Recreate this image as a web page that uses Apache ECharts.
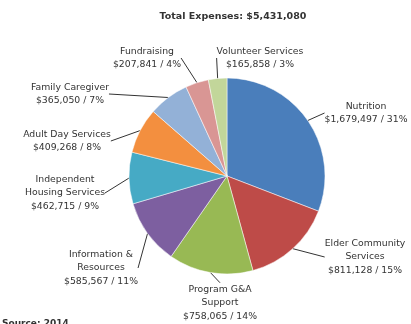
<!DOCTYPE html>
<html><head><meta charset="utf-8">
<script src="https://cdn.jsdelivr.net/npm/echarts@6/dist/echarts.min.js"></script>
<style>html,body{margin:0;padding:0;background:#fff}#c{width:411px;height:324px}</style>
</head><body><div id="c"></div>
<script>
const categories = ["Nutrition","Elder Community\nServices","Program G&A\nSupport","Information &\nResources","Independent\nHousing Services","Adult Day Services","Family Caregiver","Fundraising","Volunteer Services"];
const values = [1679497, 811128, 758065, 585567, 462715, 409268, 365050, 207841, 165858];
const percents = ["31%","15%","14%","11%","9%","8%","7%","4%","3%"];
const colors = ["#4A7EBB","#BE4B48","#98B954","#7D5FA0","#46AAC5","#F38F3F","#93B1D7","#D99694","#C2D69A"];
const labelPos = [[366,113],[365,257],[220,303],[101,268],[65,193],[67,141],[70,94],[147,58],[260,58]];
const totalText = "Total Expenses: $5,431,080";

const fmt = v => "$" + v.toLocaleString("en-US");
const chart = echarts.init(document.getElementById('c'));
chart.setOption({
  animation:false,
  title:{text:totalText,left:228,top:7,textAlign:'center',textStyle:{fontSize:9.5,fontWeight:'bold',color:'#333',fontFamily:'DejaVu Sans'}},
  graphic:[{type:'text',left:2,top:319,style:{text:'Source: 2014',fontSize:9,fontWeight:'bold',fill:'#333',fontFamily:'DejaVu Sans'}}],
  series:[{
    type:'pie',
    center:[227,176],
    radius:98,
    startAngle:90,
    clockwise:true,
    color:colors,
    itemStyle:{borderColor:'#fff',borderWidth:0.5},
    label:{show:true,position:'outside',fontSize:9.3,lineHeight:13.5,color:'#333',fontFamily:'DejaVu Sans',align:'center',
      formatter:p=>p.name+"\n"+fmt(p.value)+" / "+percents[p.dataIndex]},
    labelLine:{show:true,length:0,length2:0,smooth:false,lineStyle:{color:'#333',width:1}},
    labelLayout:function(params){
      const pos = labelPos[params.dataIndex];
      return {x:pos[0],y:pos[1],align:'center',verticalAlign:'middle'};
    },
    data:categories.map((c,i)=>({name:c,value:values[i]}))
  }]
});
</script></body></html>
